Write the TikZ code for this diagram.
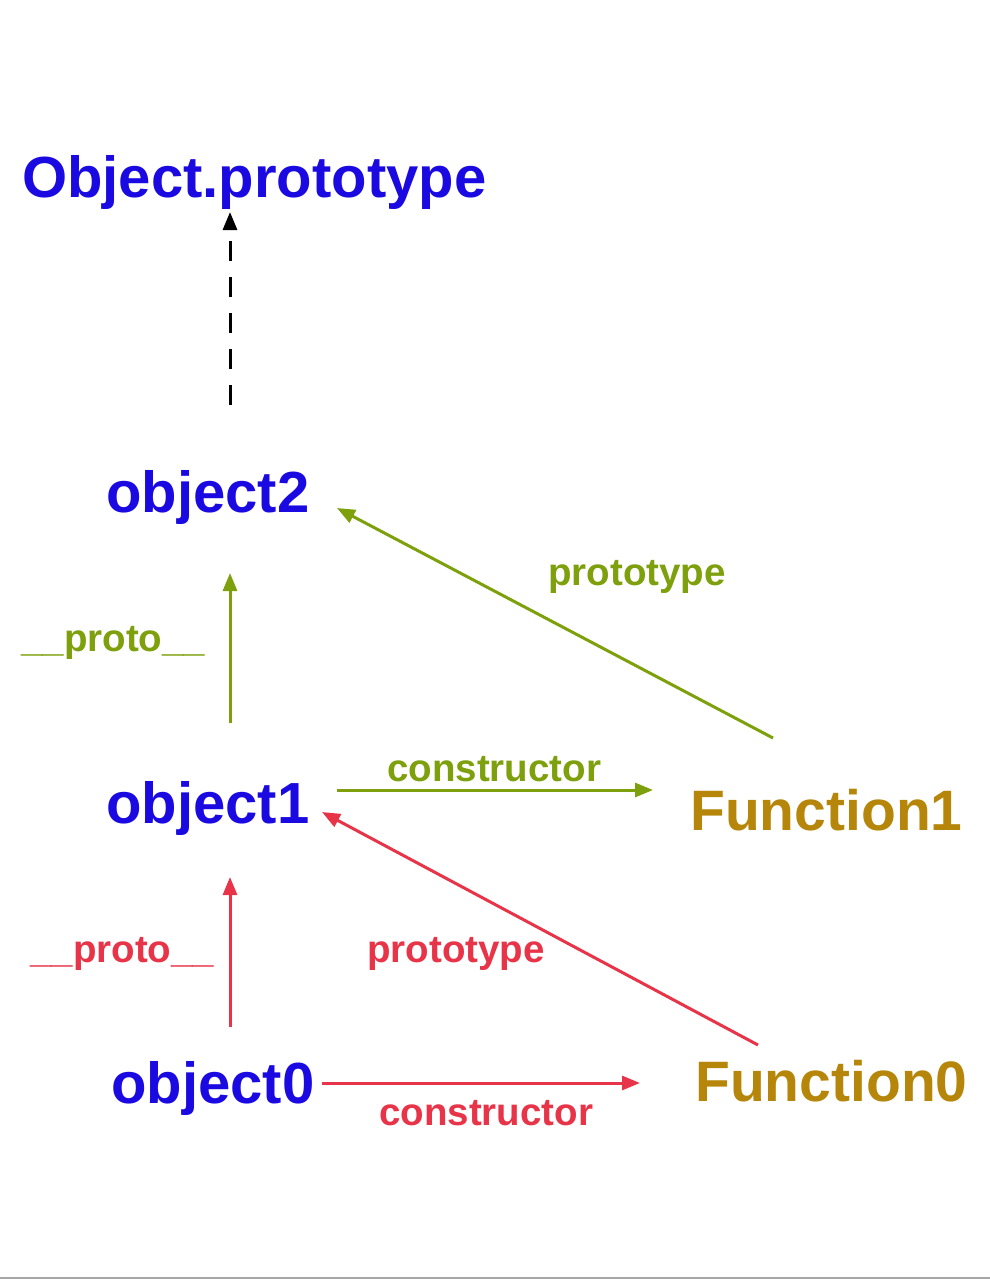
\documentclass[tikz,border=0pt]{standalone}
\usepackage{fontspec}
\setmainfont{Liberation Sans}
\usetikzlibrary{arrows.meta}
\definecolor{objblue}{RGB}{26,10,225}
\definecolor{fungold}{RGB}{182,134,10}
\definecolor{lgreen}{RGB}{125,160,12}
\definecolor{lred}{RGB}{232,52,72}
\tikzset{
  objname/.style={anchor=base west,inner sep=0pt,text=objblue,font=\bfseries\fontsize{58}{60}\selectfont},
  funname/.style={anchor=base west,inner sep=0pt,text=fungold,font=\bfseries\fontsize{57}{60}\selectfont},
  lbl/.style={anchor=base west,inner sep=0pt,font=\bfseries\fontsize{38.5}{40}\selectfont},
  link/.style={line width=3pt,-{Triangle[length=18pt,width=14pt]}},
}
\begin{document}
\begin{tikzpicture}[x=1pt,y=-1pt]
\useasboundingbox (0,0) rectangle (990,1280);
\node[objname] (OP) at (22,197) {Object.prototype};
\node[objname] (O2) at (106,512) {object2};
\node[objname] (O1) at (106,823) {object1};
\node[objname] (O0) at (111,1103) {object0};
\node[funname] (F1) at (690,830) {Function1};
\node[funname] (F0) at (695,1101) {Function0};
% end points of the arrows
\coordinate (OPin) at (230,212);
\coordinate (O2out) at (230,405);
\coordinate (O2in) at (230,573);
\coordinate (O2pin) at (337,508);
\coordinate (O1out) at (230,723);
\coordinate (O1right) at (337,790);
\coordinate (O1in) at (230,877);
\coordinate (O1pin) at (322,812);
\coordinate (O0out) at (230,1027);
\coordinate (O0right) at (322,1083);
\coordinate (F1in) at (653,790);
\coordinate (F1out) at (773,738);
\coordinate (F0in) at (640,1083);
\coordinate (F0out) at (758,1045);
% chain to Object.prototype
\draw[link,black,dash pattern=on 20pt off 16pt] (O2out) -- (OPin);
% green links
\draw[link,lgreen] (O1out) -- (O2in);
\draw[link,lgreen] (F1out) -- (O2pin);
\draw[link,lgreen] (O1right) -- (F1in);
\node[lbl,text=lgreen] (p2) at (21,651) {\_\_proto\_\_};
\node[lbl,text=lgreen] (pt1) at (548,585) {prototype};
\node[lbl,text=lgreen] (c1) at (387,781) {constructor};
% red links
\draw[link,lred] (O0out) -- (O1in);
\draw[link,lred] (F0out) -- (O1pin);
\draw[link,lred] (O0right) -- (F0in);
\node[lbl,text=lred] (p1) at (30,962) {\_\_proto\_\_};
\node[lbl,text=lred] (pt0) at (367,962) {prototype};
\node[lbl,text=lred] (c0) at (379,1125) {constructor};
\draw[black!35,line width=2pt] (0,1278) -- (990,1278);
\end{tikzpicture}
\end{document}
